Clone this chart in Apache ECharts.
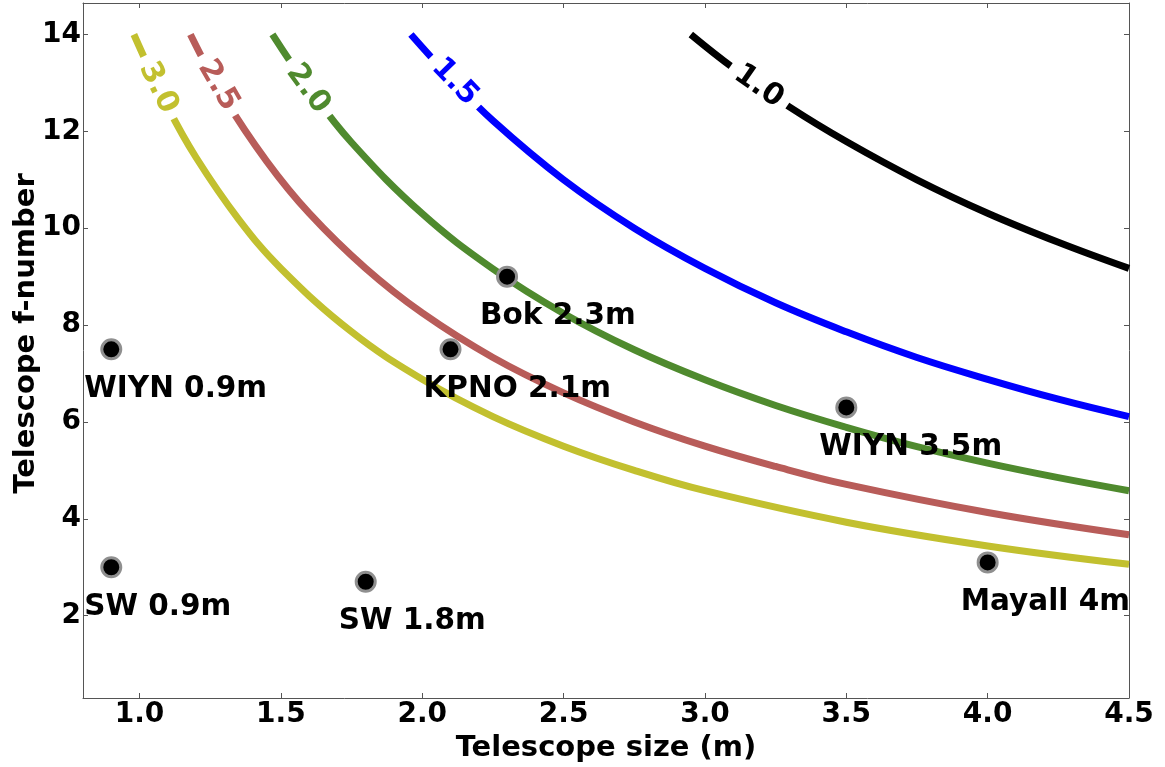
<!DOCTYPE html>
<html>
<head>
<meta charset="utf-8">
<script src="https://cdn.jsdelivr.net/npm/echarts@6/dist/echarts.min.js"></script>
<style>
  html, body { margin: 0; padding: 0; background: #ffffff; }
  #main { width: 1165px; height: 767px; }
</style>
</head>
<body>
<div id="main"></div>
<script>
// tick labels
const xTicks = [1.0, 1.5, 2.0, 2.5, 3.0, 3.5, 4.0, 4.5];
const yTicks = [2, 4, 6, 8, 10, 12, 14];

// telescopes
const telescopeNames = ["WIYN 0.9m", "SW 0.9m", "SW 1.8m", "KPNO 2.1m", "Bok 2.3m", "WIYN 3.5m", "Mayall 4m"];
const telescopeSize = [0.9, 0.9, 1.8, 2.1, 2.3, 3.5, 4.0];
const telescopeFNumber = [7.5, 3.0, 2.7, 7.5, 9.0, 6.3, 3.1];

// contour lines: [size, f-number]
const curveLevels = ["1.0", "1.5", "2.0", "2.5", "3.0"];
const curve10 = [[2.95, 14.0], [3.1, 13.31], [3.3, 12.5], [3.5, 11.79], [3.75, 11.0], [4.0, 10.31], [4.25, 9.71], [4.5, 9.17]];
const curve15 = [[1.96, 14.0], [2.1, 13.1], [2.25, 12.22], [2.5, 11.0], [2.75, 10.0], [3.0, 9.17], [3.25, 8.46], [3.5, 7.86], [3.75, 7.33], [4.0, 6.88], [4.25, 6.47], [4.5, 6.11]];
const curve20 = [[1.47, 14.0], [1.6, 12.88], [1.75, 11.77], [2.0, 10.3], [2.25, 9.16], [2.5, 8.24], [2.75, 7.49], [3.0, 6.87], [3.25, 6.34], [3.5, 5.89], [3.75, 5.49], [4.0, 5.15], [4.25, 4.85], [4.5, 4.58]];
const curve25 = [[1.18, 14.0], [1.3, 12.69], [1.45, 11.38], [1.6, 10.31], [1.8, 9.17], [2.0, 8.25], [2.25, 7.33], [2.5, 6.6], [2.75, 6.0], [3.0, 5.5], [3.25, 5.08], [3.5, 4.71], [4.0, 4.13], [4.5, 3.67]];
const curve30 = [[0.98, 14.0], [1.1, 12.5], [1.2, 11.46], [1.35, 10.19], [1.5, 9.17], [1.75, 7.86], [2.0, 6.88], [2.25, 6.11], [2.5, 5.5], [2.75, 5.0], [3.0, 4.58], [3.5, 3.93], [4.0, 3.44], [4.5, 3.06]];

const curves = [curve10, curve15, curve20, curve25, curve30];
const curveColors = ["#000000", "#0000ff", "#4f8a2e", "#b85c59", "#c2c02f"];
// where the inline label sits and its angle
const labelSpots = [
  { at: [3.19, 12.93], rot: -35 },
  { at: [2.115, 13.02], rot: -46 },
  { at: [1.596, 12.88], rot: -54 },
  { at: [1.278, 12.95], rot: -60 },
  { at: [1.066, 12.9], rot: -64 }
];

const font = "DejaVu Sans";

let myChart = echarts.init(document.getElementById("main"));

let lineSeries = curves.map(function (pts, i) {
  return {
    type: "line",
    data: pts,
    smooth: 0.4,
    showSymbol: false,
    silent: true,
    z: 2,
    lineStyle: { color: curveColors[i], width: 7 },
    markPoint: {
      symbol: "rect",
      symbolSize: 0,
      silent: true,
      data: [{ coord: labelSpots[i].at, value: curveLevels[i] }],
      label: {
        show: true,
        position: "inside",
        formatter: curveLevels[i],
        rotate: labelSpots[i].rot,
        color: curveColors[i],
        fontFamily: font,
        fontWeight: "bold",
        fontSize: 30,
        backgroundColor: "#ffffff",
        padding: [0, 8]
      }
    }
  };
});

let points = telescopeSize.map(function (x, i) {
  return [x, telescopeFNumber[i], telescopeNames[i]];
});

let options = {
  animation: false,
  backgroundColor: "#ffffff",
  grid: { left: 83, right: 36, top: 3, bottom: 69, outerBoundsMode: "none", containLabel: false },
  xAxis: [
    {
      type: "value",
      min: 0.8,
      max: 4.5,
      name: "Telescope size (m)",
      nameLocation: "middle",
      nameGap: 32,
      nameTextStyle: { color: "#000", fontFamily: font, fontWeight: "bold", fontSize: 29 },
      splitLine: { show: false },
      axisLine: { lineStyle: { color: "#555", width: 1 } },
      axisTick: { inside: true, length: 5, customValues: xTicks, lineStyle: { color: "#555" } },
      axisLabel: {
        customValues: xTicks,
        margin: 3,
        color: "#000",
        fontFamily: font,
        fontWeight: "bold",
        fontSize: 28,
        formatter: function (v) { return v.toFixed(1); }
      }
    },
    {
      type: "value",
      position: "top",
      min: 0.8,
      max: 4.5,
      splitLine: { show: false },
      axisLine: { show: true, lineStyle: { color: "#555", width: 1 } },
      axisTick: { inside: true, length: 5, customValues: xTicks, lineStyle: { color: "#555" } },
      axisLabel: { show: false }
    }
  ],
  yAxis: [
    {
      type: "value",
      min: 0.3,
      max: 14.65,
      name: "Telescope f-number",
      nameLocation: "middle",
      nameGap: 42,
      nameMoveOverlap: false,
      nameTextStyle: { color: "#000", fontFamily: font, fontWeight: "bold", fontSize: 29, padding: [0, 0, 0, 34] },
      splitLine: { show: false },
      axisLine: { show: true, lineStyle: { color: "#555", width: 1 } },
      axisTick: { inside: true, length: 5, customValues: yTicks, lineStyle: { color: "#555" } },
      axisLabel: {
        customValues: yTicks,
        margin: 2,
        color: "#000",
        fontFamily: font,
        fontWeight: "bold",
        fontSize: 28
      }
    },
    {
      type: "value",
      position: "right",
      min: 0.3,
      max: 14.65,
      splitLine: { show: false },
      axisLine: { show: true, lineStyle: { color: "#555", width: 1 } },
      axisTick: { inside: true, length: 5, customValues: yTicks, lineStyle: { color: "#555" } },
      axisLabel: { show: false }
    }
  ],
  series: lineSeries.concat([
    {
      type: "scatter",
      data: points,
      symbolSize: 19,
      z: 5,
      itemStyle: { color: "#000000", borderColor: "#8f8f8f", borderWidth: 3, opacity: 1 },
      label: {
        show: true,
        position: "inside",
        align: "left",
        verticalAlign: "middle",
        offset: [-27, 40],
        formatter: function (p) { return p.data[2]; },
        color: "#000",
        fontFamily: font,
        fontWeight: "bold",
        fontSize: 29.5
      }
    }
  ])
};

myChart.setOption(options);
</script>
</body>
</html>
